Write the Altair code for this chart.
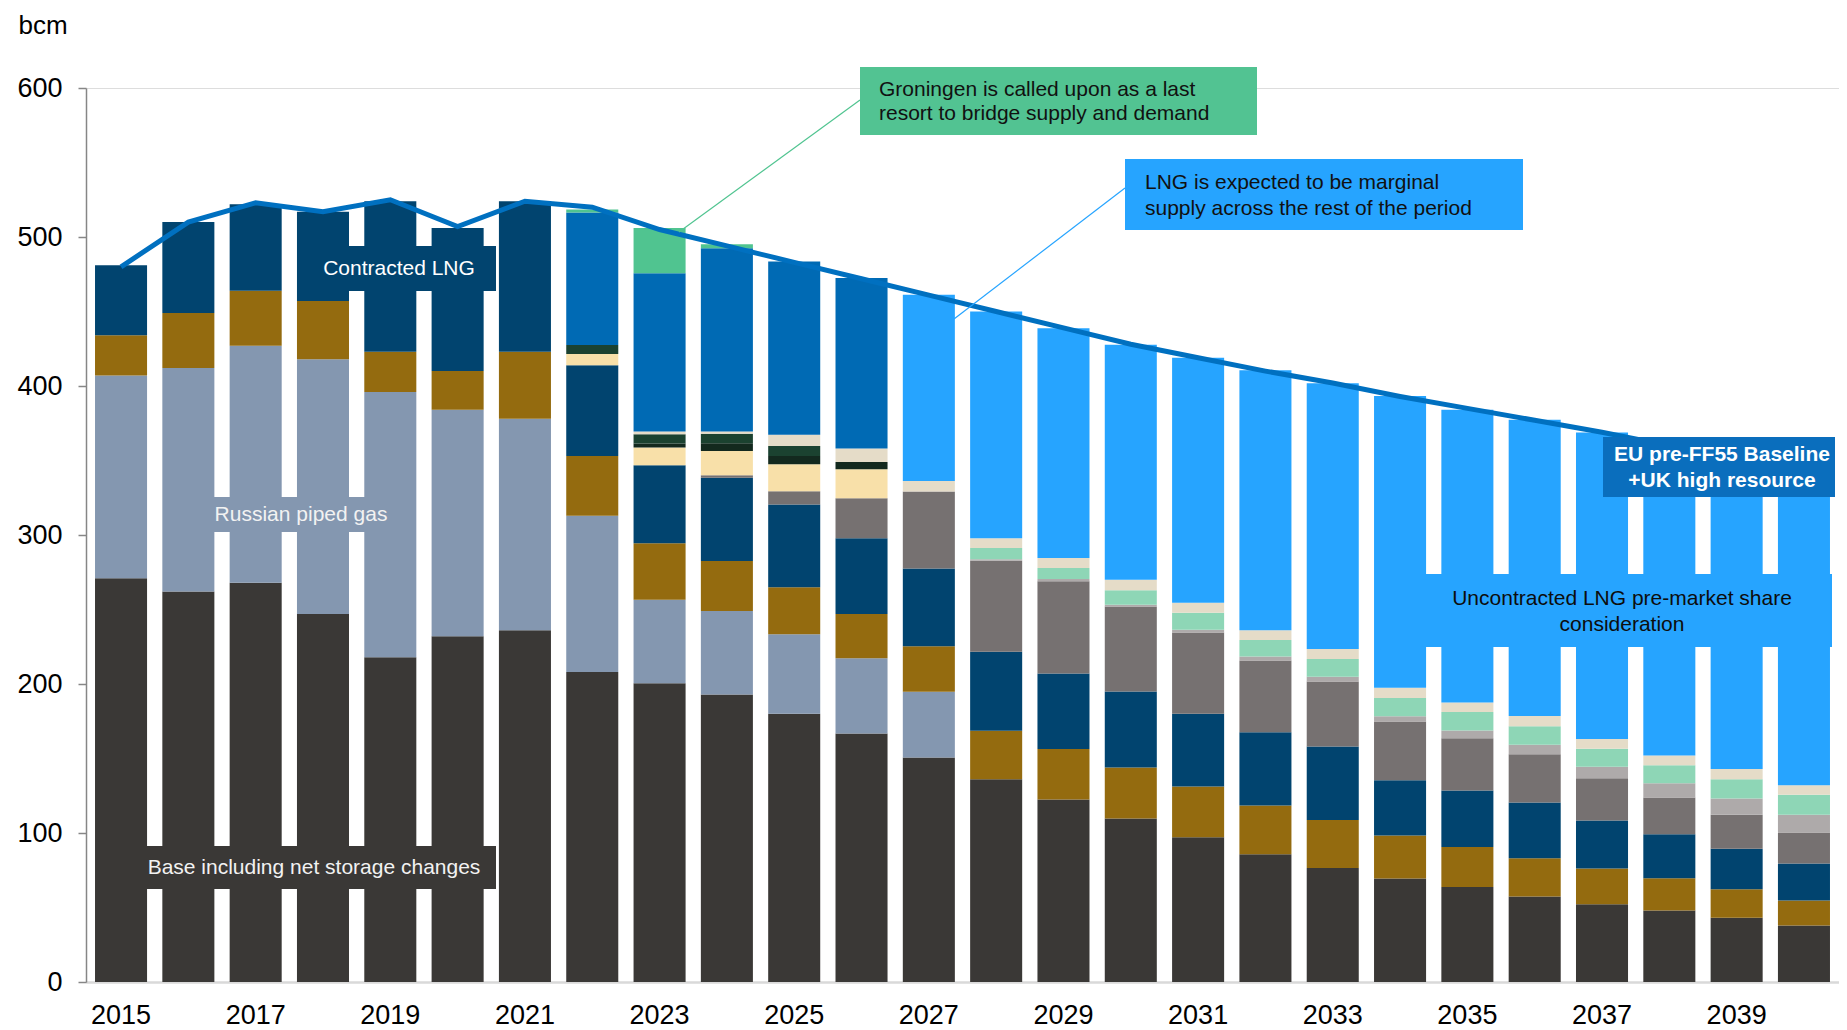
import altair as alt
import pandas as pd

# ---------------- data ----------------
years = list(range(2015, 2041))

base = [271, 262, 268, 247, 218, 232, 236, 208, 200.5, 193, 180, 166.8, 150.7,
        136, 122.5, 109.8, 97.1, 85.7, 76.5, 69.4, 63.7, 57.3, 52.1, 48, 43.1, 37.9]
russian = [136, 150, 159, 171, 178, 152, 142, 105, 56, 56, 53.4, 50.5, 44.1,
           0, 0, 0, 0, 0, 0, 0, 0, 0, 0, 0, 0, 0]
gold = [27, 37, 37, 39, 27, 26, 45, 40, 38, 33.5, 31.6, 29.7, 30.5,
        32.6, 33.8, 34.2, 34.1, 32.8, 32.2, 28.9, 26.9, 25.8, 24, 21.7, 19.1, 16.8]
contracted = [47, 61, 58, 60, 101, 96, 101, 61, 52.3, 56, 55.5, 50.8, 52.3,
              53.1, 50.7, 50.9, 48.8, 49.1, 49.3, 37.1, 37.9, 37.4, 32.3, 29.4, 27.3, 24.8]
grey = [0, 0, 0, 0, 0, 0, 0, 0, 0, 1.6, 8.9, 26.9, 51.6,
        61, 62, 57.1, 54.5, 48.1, 43.6, 39.5, 35.1, 32.3, 28.4, 24.8, 22.8, 20.9]
light_grey = [0, 0, 0, 0, 0, 0, 0, 0, 0, 0, 0, 0, 0,
              1.1, 1.4, 1.2, 1.9, 2.7, 3.2, 3.5, 5.2, 6.4, 7.7, 9.5, 10.8, 11.9]
mint = [0, 0, 0, 0, 0, 0, 0, 0, 0, 0, 0, 0, 0,
        7.4, 7.4, 9.8, 11.4, 11.2, 12, 12.2, 12.4, 12.4, 12.1, 12.1, 12.9, 13.4]
checker_yellow = [0, 0, 0, 0, 0, 0, 0, 7.5, 12, 16.2, 18.1, 19.5, 0,
                  0, 0, 0, 0, 0, 0, 0, 0, 0, 0, 0, 0, 0]
very_dark = [0, 0, 0, 0, 0, 0, 0, 0, 2.6, 5.2, 5.6, 4.8, 0,
             0, 0, 0, 0, 0, 0, 0, 0, 0, 0, 0, 0, 0]
dark_green = [0, 0, 0, 0, 0, 0, 0, 6, 6.2, 6.4, 6.7, 0, 0,
              0, 0, 0, 0, 0, 0, 0, 0, 0, 0, 0, 0, 0]
checker_grey = [0, 0, 0, 0, 0, 0, 0, 0, 1.8, 1.6, 7.4, 9, 7.1,
                6.7, 6.7, 7, 6.8, 6.4, 6.7, 6.8, 6.4, 7, 6.5, 6.5, 7, 6.4]
lng_marginal = [0, 0, 0, 0, 0, 0, 0, 89, 106.3, 123, 116.4, 114.4, 0,
                0, 0, 0, 0, 0, 0, 0, 0, 0, 0, 0, 0, 0]
uncontracted = [0, 0, 0, 0, 0, 0, 0, 0, 0, 0, 0, 0, 124.9,
                152.1, 154.2, 157.7, 164.4, 174.5, 178.3, 195.9, 196.4, 198.7, 205.7, 208, 208, 210.9]
groningen = [0, 0, 0, 0, 0, 0, 0, 2, 30.3, 2.7, 0, 0, 0,
             0, 0, 0, 0, 0, 0, 0, 0, 0, 0, 0, 0, 0]

demand = [480, 510, 523, 517, 525, 507, 524, 520, 505, 494, 483, 472, 461,
          450, 439, 428, 419, 410, 402, 393, 385, 377, 369, 360, 352, 343]

series_names = ["Base including net storage changes", "Russian piped gas", "Other piped supply",
                "Contracted LNG", "Other supply (grey)", "Other supply (light grey)",
                "Other supply (mint)", "New supply (yellow)", "New supply (very dark)",
                "New supply (dark green)", "New supply (beige)", "LNG marginal supply",
                "Uncontracted LNG", "Groningen"]
series_values = [base, russian, gold, contracted, grey, light_grey, mint, checker_yellow,
                 very_dark, dark_green, checker_grey, lng_marginal, uncontracted, groningen]
series_colors = ["#3A3836", "#8497B0", "#946B0F", "#01446F", "#767171", "#AEAAAA",
                 "#8ED6B6", "#F8E0A9", "#13291E", "#1B4230", "#E5DCC8", "#006AB4",
                 "#26A4FF", "#50C490"]

rows = []
for i, (name, vals) in enumerate(zip(series_names, series_values)):
    for yr, v in zip(years, vals):
        if v > 0:
            rows.append({"year": yr, "series": name, "value": v, "order": i})
df = pd.DataFrame(rows)
ldf = pd.DataFrame({"year": years, "demand": demand})

# ---------------- chart ----------------
FONT = "Liberation Sans"
W, H = 1753, 894

xscale = alt.Scale(type="band", paddingInner=0.227, paddingOuter=0.134)
xaxis = alt.Axis(values=years[::2], labelAngle=0, ticks=False, tickSize=0, labelPadding=20,
                 labelFontSize=27, labelColor="#000000", labelFont=FONT,
                 domainColor="#D9D9D9", domainWidth=2.5, grid=False, title=None)
yscale = alt.Scale(domain=[0, 600], nice=False, zero=True)
yaxis = alt.Axis(values=[0, 100, 200, 300, 400, 500, 600], labelFontSize=27, labelColor="#000000",
                 labelFont=FONT, labelPadding=16, tickSize=8, tickColor="#868686", tickWidth=1.5,
                 domainColor="#868686", domainWidth=1.5, grid=False,
                 title="bcm", titleAngle=0, titleX=-68, titleY=-55, titleAlign="left",
                 titleBaseline="alphabetic", titleFontSize=26, titleFontWeight="normal",
                 titleColor="#000000", titleFont=FONT)

bars = alt.Chart(df).mark_bar().encode(
    x=alt.X("year:O", scale=xscale, axis=xaxis),
    y=alt.Y("value:Q", stack="zero", scale=yscale, axis=yaxis),
    color=alt.Color("series:N", scale=alt.Scale(domain=series_names, range=series_colors), legend=None),
    order=alt.Order("order:Q", sort="ascending"),
)

line = alt.Chart(ldf).mark_line(color="#0070C0", strokeWidth=5).encode(
    x=alt.X("year:O", scale=xscale, axis=xaxis),
    y=alt.Y("demand:Q", scale=yscale, axis=yaxis),
)

ONE = alt.Data(values=[{"a": 1}])


def box(x1, x2, y1, y2, color):
    return alt.Chart(ONE).mark_rect(color=color).encode(
        x=alt.value(x1), x2=alt.value(x2), y=alt.value(y1), y2=alt.value(y2))


def txt(s, x, y, color, align="center", size=21, weight="normal"):
    return alt.Chart(ONE).mark_text(text=s, align=align, baseline="middle", fontSize=size,
                                    font=FONT, fontWeight=weight, color=color).encode(
        x=alt.value(x), y=alt.value(y))


def connector(x1, y1, x2, y2, color):
    return alt.Chart(ONE).mark_rule(color=color, strokeWidth=1.2).encode(
        x=alt.value(x1), y=alt.value(y1), x2=alt.value(x2), y2=alt.value(y2))


annots = [
    # in-bar labels
    box(211, 410, 158, 203, "#01446F"),
    txt("Contracted LNG", 313, 181, "#FFFFFF"),
    box(126, 306, 409, 444, "#8497B0"),
    txt("Russian piped gas", 215, 427, "#F2F2F2"),
    box(46, 410, 758, 801, "#3A3836"),
    txt("Base including net storage changes", 228, 780, "#F2F2F2"),
    box(1304, 1746, 486, 559, "#26A4FF"),
    txt("Uncontracted LNG pre-market share", 1536, 511, "#0D0D0D"),
    txt("consideration", 1536, 537, "#0D0D0D"),
    # callouts
    connector(774, 12, 593, 144, "#50C490"),
    box(774, 1171, -21, 47, "#52C392"),
    txt("Groningen is called upon as a last", 793, 2, "#111111", align="left"),
    txt("resort to bridge supply and demand", 793, 26, "#111111", align="left"),
    connector(1039, 100, 868, 231, "#26A4FF"),
    box(1039, 1437, 71, 142, "#26A4FF"),
    txt("LNG is expected to be marginal", 1059, 95, "#111111", align="left"),
    txt("supply across the rest of the period", 1059, 121, "#111111", align="left"),
    # scenario label
    box(1517, 1749, 349, 409, "#0A6EBD"),
    txt("EU pre-FF55 Baseline", 1636, 367, "#FFFFFF", weight="bold"),
    txt("+UK high resource", 1636, 393, "#FFFFFF", weight="bold"),
]

chart = alt.layer(bars, line, *annots).properties(
    width=W, height=H,
    padding={"left": 78, "top": 80, "right": 0, "bottom": 47},
    autosize=alt.AutoSizeParams(type="none"),
    background="#FFFFFF",
).configure_view(stroke=None).configure(font=FONT)

chart.save("out.html", embed_options={"renderer": "svg", "actions": False})
